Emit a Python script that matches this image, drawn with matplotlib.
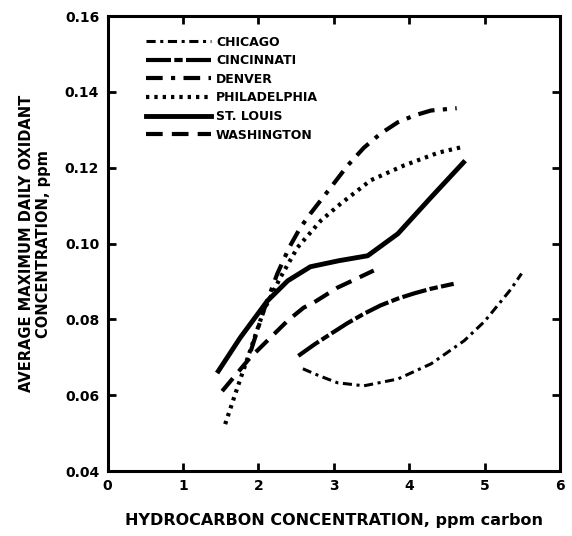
import matplotlib.pyplot as plt

# -----------------------------
# Data
# -----------------------------
chicago_x = [2.59, 2.8, 3.05, 3.4, 3.85, 4.29, 4.73, 5.0, 5.19, 5.35, 5.49]
chicago_y = [0.067, 0.0652, 0.0633, 0.0625, 0.0643, 0.0683, 0.0744, 0.0795, 0.0841, 0.088, 0.0921]

cinc_x = [2.53, 2.75, 2.96, 3.18, 3.4, 3.62, 3.85, 4.07, 4.29, 4.59]
cinc_y = [0.0704, 0.0735, 0.0762, 0.079, 0.0815, 0.0837, 0.0855, 0.0869, 0.0881, 0.0894]

denver_x = [1.9, 2.07, 2.25, 2.41, 2.55, 2.69, 2.96, 3.18, 3.4, 3.62, 3.85, 4.07, 4.29, 4.63]
denver_y = [0.0717, 0.0823, 0.092, 0.099, 0.104, 0.1079, 0.1148, 0.1205, 0.1253, 0.129, 0.132, 0.1338, 0.1351, 0.1357]

phila_x = [1.56, 1.72, 1.89, 2.07, 2.29, 2.52, 2.83, 3.09, 3.49, 3.93, 4.39, 4.73]
phila_y = [0.0524, 0.0619, 0.0717, 0.0823, 0.091, 0.099, 0.1061, 0.1105, 0.1167, 0.1206, 0.124, 0.1256]

stl_x = [1.47, 1.76, 2.12, 2.39, 2.69, 3.07, 3.45, 3.85, 4.29, 4.72]
stl_y = [0.0664, 0.0752, 0.0849, 0.0902, 0.0939, 0.0955, 0.0968, 0.1026, 0.1122, 0.1214]

wash_x = [1.52, 1.89, 2.16, 2.39, 2.6, 2.73, 3.05, 3.19, 3.53]
wash_y = [0.0611, 0.0699, 0.0752, 0.0797, 0.0831, 0.0844, 0.0884, 0.0897, 0.0929]

x_ticks = [0, 1, 2, 3, 4, 5, 6]
y_ticks = [0.04, 0.06, 0.08, 0.10, 0.12, 0.14, 0.16]

# -----------------------------
# Plot
# -----------------------------
plt.rcParams['font.family'] = 'DejaVu Sans'
plt.rcParams['font.weight'] = 'bold'

fig = plt.figure(figsize=(5.72, 5.36), dpi=100)
ax = fig.add_axes([0.188, 0.121, 0.791, 0.849])

ax.plot(chicago_x, chicago_y, color='black', lw=2.2, linestyle=(0, (3, 1.5, 1, 1.5)), label='CHICAGO')
ax.plot(cinc_x, cinc_y, color='black', lw=3, linestyle=(0, (6, 0.8, 2, 0.8)), label='CINCINNATI')
ax.plot(denver_x, denver_y, color='black', lw=3, linestyle=(0, (4, 2, 1, 2)), label='DENVER')
ax.plot(phila_x, phila_y, color='black', lw=3, linestyle=(0, (0.8, 1.2)), label='PHILADELPHIA')
ax.plot(stl_x, stl_y, color='black', lw=3.5, linestyle='-', label='ST. LOUIS')
ax.plot(wash_x, wash_y, color='black', lw=3, linestyle=(0, (4, 2.2)), label='WASHINGTON')

ax.set_xlim(0, 6)
ax.set_ylim(0.04, 0.16)
ax.set_xticks(x_ticks)
ax.set_yticks(y_ticks)
ax.set_xticklabels([str(v) for v in x_ticks], fontsize=10, fontweight='bold')
ax.set_yticklabels(['{:.2f}'.format(v) for v in y_ticks], fontsize=10, fontweight='bold')
ax.tick_params(direction='in', length=6, width=2, top=True, right=True, pad=6)
for s in ax.spines.values():
    s.set_linewidth(2.2)

ax.set_xlabel('HYDROCARBON CONCENTRATION, ppm carbon', fontsize=11.5, fontweight='bold', labelpad=14)
ax.set_ylabel('AVERAGE MAXIMUM DAILY OXIDANT\nCONCENTRATION, ppm', fontsize=10.5, fontweight='bold', labelpad=10)

leg = ax.legend(loc='upper left', bbox_to_anchor=(0.06, 0.982), frameon=False,
                fontsize=9, handlelength=5.2, handletextpad=0.4, labelspacing=0.45)
for t in leg.get_texts():
    t.set_fontweight('bold')

plt.savefig('out.png', dpi=100)
plt.close()
